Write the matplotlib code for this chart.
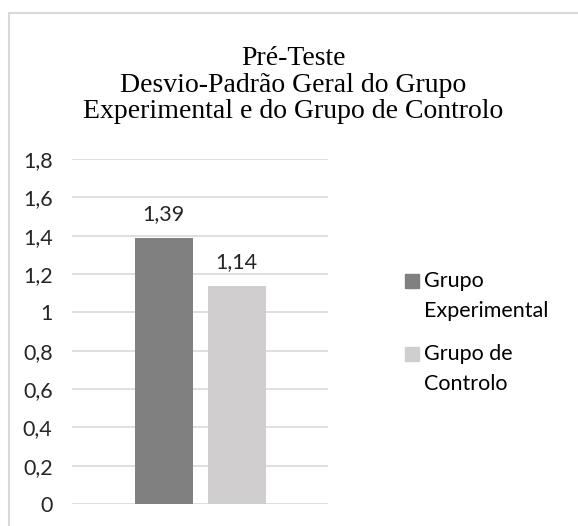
import matplotlib.pyplot as plt
from matplotlib.patches import Rectangle

series = ['Grupo\nExperimental', 'Grupo de\nControlo']
values = [1.39, 1.14]
value_labels = ['1,39', '1,14']
colors = ['#808080', '#d0cece']
yticks = [0, 0.2, 0.4, 0.6, 0.8, 1.0, 1.2, 1.4, 1.6, 1.8]
ytick_labels = ['0', '0,2', '0,4', '0,6', '0,8', '1', '1,2', '1,4', '1,6', '1,8']

W, H = 578, 526
fig = plt.figure(figsize=(W / 100, H / 100), dpi=100)

# chart border
fig.patches.append(Rectangle((9 / W, -0.01), 1.02, (H - 13) / H + 0.01, transform=fig.transFigure,
                             fill=False, edgecolor='#d9d9d9', linewidth=1.5))

ax = fig.add_axes([72 / W, (H - 504) / H, 256 / W, 345 / H])
ax.set_ylim(0, 1.8)
ax.set_xlim(0, 1)

w = 58 / 256
gap = 15 / 256
xs = [0.5 - gap / 2 - w / 2, 0.5 + gap / 2 + w / 2]
for x, v, c, s, lab in zip(xs, values, colors, series, value_labels):
    ax.bar(x, v, width=w, color=c, label=s, zorder=3)
    ax.text(x, v + 0.12, lab, ha='center', va='center', fontsize=15.5,
            family='Lato', color='#262626')

ax.set_yticks(yticks)
ax.set_yticklabels(ytick_labels, family='Lato', fontsize=15.5, color='#262626')
ax.tick_params(axis='y', length=0, pad=14)
ax.set_xticks([])
ax.grid(axis='y', color='#d9d9d9', linewidth=1.2, zorder=0)
for sp in ax.spines.values():
    sp.set_visible(False)

fig.text(0.5 * (9 + W) / W, (H - 85) / H,
         'Pré-Teste\nDesvio-Padrão Geral do Grupo\nExperimental e do Grupo de Controlo',
         ha='center', va='center', family='Liberation Serif', fontsize=20,
         linespacing=1.1, color='#000000')

# legend: square aligned with first line of each label
leg_y = [281, 354]
for y, c, s in zip(leg_y, colors, series):
    fig.patches.append(Rectangle((405 / W, (H - y - 7) / H), 14 / W, 14 / H,
                                 transform=fig.transFigure, color=c))
    fig.text(424 / W, (H - y + 10) / H, s, ha='left', va='top', family='Lato',
             fontsize=15.5, linespacing=1.6, color='#000000')

fig.savefig('out.png', dpi=100)
